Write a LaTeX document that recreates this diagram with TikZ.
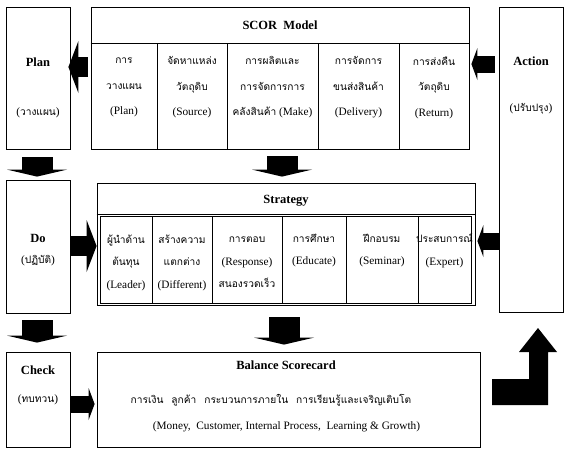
\documentclass[tikz,border=0pt]{standalone}
\usepackage{fontspec}
\setmainfont{Liberation Serif}
\newfontfamily\thaifont[Script=Thai,Scale=0.9]{Loma}
\usetikzlibrary{arrows.meta}

\tikzset{
  box/.style={draw, line width=0.8pt, inner sep=0pt},
  title/.style={font=\fontsize{12.5}{15}\selectfont\bfseries},
  label/.style={font=\fontsize{11.3}{14}\selectfont},
  cell/.style={align=center, font=\fontsize{11.3}{25.5}\selectfont},
  scell/.style={align=center, font=\fontsize{11.3}{22.5}\selectfont},
  bigarrow/.style={line width=20pt, -{Triangle[length=10pt,width=52pt,line width=0pt]}},
  smallarrow/.style={line width=17pt, -{Triangle[length=6pt,width=32pt,line width=0pt]}},
  downarrow/.style={line width=31pt, -{Triangle[length=7pt,width=60pt,line width=0pt]}},
}

\begin{document}
\begin{tikzpicture}[x=1pt, y=-1pt]

\useasboundingbox (0,0) rectangle (565,448);

% PDCA boxes
\node[box, minimum width=64, minimum height=142] (plan) at (38,78) {};
\node[box, minimum width=64, minimum height=133] (do) at (38,246.5) {};
\node[box, minimum width=64, minimum height=95] (check) at (38,399.5) {};
\node[box, minimum width=64, minimum height=305] (action) at (531,159.5) {};

\node[title] (plantitle) at (38,62) {Plan};
\node[label] (planthai) at (38,113) {({\thaifont วางแผน})};
\node[title] (dotitle) at (38,238) {Do};
\node[label] (dothai) at (38,261) {({\thaifont ปฏิบัติ})};
\node[title] (checktitle) at (38,370) {Check};
\node[label] (checkthai) at (38,400) {({\thaifont ทบทวน})};
\node[title] (actiontitle) at (531,61) {Action};
\node[label] (actionthai) at (531,109) {({\thaifont ปรับปรุง})};

% SCOR model
\node[box, minimum width=378, minimum height=142] (scor) at (280,78) {};
\draw[line width=0.8pt] (scor.west |- 0,43) -- (scor.east |- 0,43);
\foreach \x in {157,227,318,399} \draw[line width=0.8pt] (\x,43) -- (\x,149);
\node[title] (scortitle) at (280,25) {SCOR\ \ Model};

\node[cell] (scor1) at (124,87.5) {{\thaifont การ}\\{\thaifont วางแผน}\\(Plan)};
\node[cell] (scor2) at (192,87.5) {{\thaifont จัดหาแหล่ง}\\{\thaifont วัตถุดิบ}\\(Source)};
\node[cell] (scor3) at (272.5,87.5) {{\thaifont การผลิตและ}\\{\thaifont การจัดการการ}\\{\thaifont คลังสินค้า} (Make)};
\node[cell] (scor4) at (358.5,87.5) {{\thaifont การจัดการ}\\{\thaifont ขนส่งสินค้า}\\(Delivery)};
\node[cell] (scor5) at (434,87.5) {{\thaifont การส่งคืน}\\{\thaifont วัตถุดิบ}\\(Return)};

% Strategy
\node[box, minimum width=378, minimum height=122] (strategy) at (286,244) {};
\draw[line width=0.8pt] (strategy.west |- 0,214) -- (strategy.east |- 0,214);
\draw[line width=1pt] (100,216) rectangle (471,303);
\foreach \x in {152,212,282,346,418} \draw[line width=0.8pt] (\x,216) -- (\x,303);
\node[title] (strategytitle) at (286,201) {Strategy};

\node[scell] (str1) at (126,262.5) {{\thaifont ผู้นำด้าน}\\{\thaifont ต้นทุน}\\(Leader)};
\node[scell] (str2) at (182,262.5) {{\thaifont สร้างความ}\\{\thaifont แตกต่าง}\\(Different)};
\node[scell] (str3) at (247,262.5) {{\thaifont การตอบ}\\(Response)\\{\thaifont สนองรวดเร็ว}};
\node[scell] (str4) at (314,250.5) {{\thaifont การศึกษา}\\(Educate)};
\node[scell] (str5) at (382,250.5) {{\thaifont ฝึกอบรม}\\(Seminar)};
\node[scell] (str6) at (444.5,250.5) {{\thaifont ประสบการณ์}\\(Expert)};

% Balance scorecard
\node[box, minimum width=383, minimum height=95] (balance) at (288.5,399.5) {};
\node[title] (balancetitle) at (286,365) {Balance Scorecard};
\node[label] (balancethai) at (271,400) {{\thaifont การเงิน\hspace{8pt}ลูกค้า\hspace{8pt}กระบวนการภายใน\hspace{8pt}การเรียนรู้และเจริญเติบโต}};
\node[label] (balanceeng) at (286.5,427) {(Money,\ \ Customer, Internal Process,\ \ Learning \& Growth)};

% block arrows
\draw[bigarrow, shorten <=3pt, shorten >=-2pt] (scor.west |- 0,67) -- (plan.east |- 0,67);
\draw[smallarrow, shorten <=4pt, shorten >=2pt] (action.west |- 0,64) -- (scor.east |- 0,64);
\draw[bigarrow] (do.east |- 0,246) -- (strategy.west |- 0,246);
\draw[smallarrow, shorten >=2pt] (action.west |- 0,241) -- (strategy.east |- 0,241);
\draw[smallarrow, shorten >=2pt] (check.east |- 0,404) -- (balance.west |- 0,404);

\draw[downarrow, shorten <=8pt, shorten >=3pt] (37,0 |- plan.south) -- (37,0 |- do.north);
\draw[downarrow, shorten <=7pt, shorten >=6pt] (282,0 |- scor.south) -- (282,0 |- strategy.north);
\draw[downarrow, shorten <=7pt, shorten >=9pt] (37,0 |- do.south) -- (37,0 |- check.north);
\draw[downarrow, shorten <=12pt, shorten >=7pt] (284,0 |- strategy.south) -- (284,0 |- balance.north);

\fill (492,379) -- (529,379) -- (529,352) -- (519,352) -- (538,328) -- (557,352)
  -- (548,352) -- (548,405) -- (492,405) -- cycle;

\end{tikzpicture}
\end{document}
